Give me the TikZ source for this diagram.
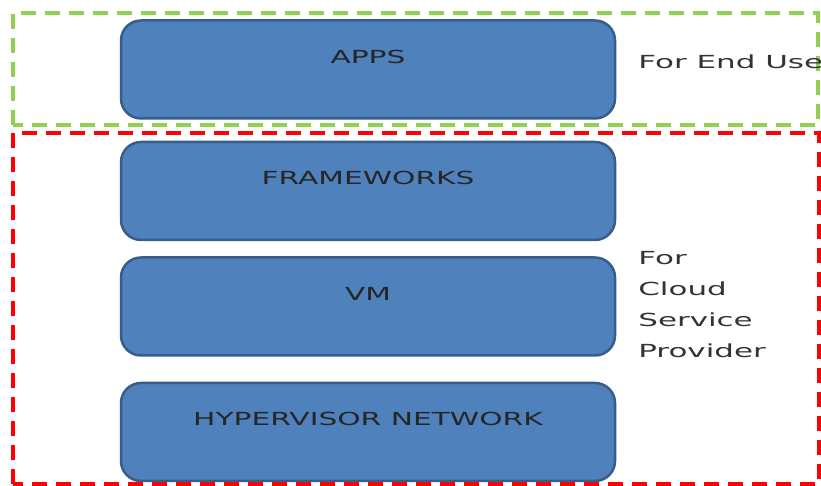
\documentclass[tikz,border=0pt]{standalone}
\usepackage{fontspec}
\setmainfont{DejaVu Sans}
\usetikzlibrary{positioning}

\definecolor{layerfill}{HTML}{4F81BD}
\definecolor{layerdraw}{HTML}{385D8A}
\definecolor{usergreen}{HTML}{92D050}
\definecolor{cspred}{HTML}{FF0000}

\tikzset{
  layer/.style={draw=layerdraw, fill=layerfill, line width=2.5pt, rounded corners=20pt,
    minimum width=494pt, minimum height=98pt, inner sep=0pt},
  layertext/.style={font=\fontsize{18}{22}\selectfont, text=black!85, xscale=1.65},
  sidetext/.style={font=\fontsize{18}{31}\selectfont, text=black!80, xscale=1.72,
    align=left, anchor=west, inner sep=0pt},
  zone/.style={line width=3.5pt, dash pattern=on 15pt off 9pt}
}

\begin{document}
\begin{tikzpicture}[x=1pt, y=1pt]
  \useasboundingbox (0,0) rectangle (821,486);

  % --- end user zone ---
  \draw[zone, usergreen] (13,361) rectangle (818,473);
  % --- cloud service provider zone ---
  \draw[zone, cspred] (13,2) rectangle (819,353);

  % --- stack of layers ---
  \node[layer] (apps) at (368,416.5) {};
  \node[layer] (frameworks) at (368,295) {};
  \node[layer] (vm) at (368,179.5) {};
  \node[layer] (hypervisor) at (368,54) {};

  \node[layertext] (appstext) at ([yshift=13pt]apps.center) {APPS};
  \node[layertext] (frameworkstext) at ([yshift=13pt]frameworks.center) {FRAMEWORKS};
  \node[layertext] (vmtext) at ([yshift=13pt]vm.center) {VM};
  \node[layertext] (hypervisortext) at ([yshift=13pt]hypervisor.center) {HYPERVISOR NETWORK};

  % --- zone labels ---
  \node[sidetext] (enduser) at (638,424) {For End User};
  \node[sidetext] (provider) at (638,181) {For\\Cloud\\Service\\Provider};
\end{tikzpicture}
\end{document}
